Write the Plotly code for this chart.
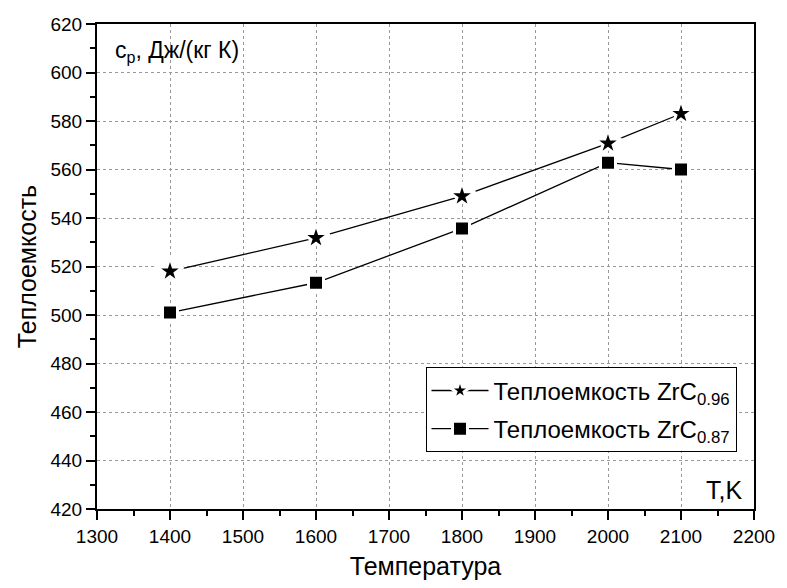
import plotly.graph_objects as go

# Temperature points, K
temperature = [1400, 1600, 1800, 2000, 2100]
# Specific heat, J/(kg K)
cp_zrc096 = [518.0, 531.8, 549.0, 570.8, 583.0]
cp_zrc087 = [501.0, 513.3, 535.7, 562.8, 560.0]

x_ticks = [1300, 1400, 1500, 1600, 1700, 1800, 1900, 2000, 2100, 2200]
x_top_minor = [1350, 1450, 1550, 1650, 1750, 1850, 1950, 2050, 2150]
y_ticks = [420, 440, 460, 480, 500, 520, 540, 560, 580, 600, 620]

FONT = "Liberation Sans, Arial, sans-serif"

fig = go.Figure()

# White marker outline leaves a small gap between the line and each marker
fig.add_trace(go.Scatter(
    x=temperature, y=cp_zrc096, mode="lines+markers",
    name="Теплоемкость ZrC<sub>0.96</sub>", legendgroup="a",
    line=dict(color="black", width=1.3),
    marker=dict(symbol="star", size=20, color="black",
                line=dict(color="white", width=3)),
))
fig.add_trace(go.Scatter(
    x=temperature, y=cp_zrc087, mode="lines+markers",
    name="Теплоемкость ZrC<sub>0.87</sub>", legendgroup="b",
    line=dict(color="black", width=1.3),
    marker=dict(symbol="square", size=15, color="black",
                line=dict(color="white", width=3)),
))

axis_common = dict(
    showline=True, linecolor="black", linewidth=2, mirror=True,
    ticks="outside", ticklen=9, tickwidth=2, tickcolor="black",
    showgrid=True, gridcolor="#999999", griddash="dot", gridwidth=1,
    zeroline=False,
    tickfont=dict(family=FONT, size=19, color="black"),
)

fig.update_xaxes(
    range=[1300, 2200], tickvals=x_ticks,
    minor=dict(dtick=50, ticks="outside", ticklen=5, tickwidth=2,
               tickcolor="black", showgrid=False),
    title=dict(text="Температура", standoff=12,
               font=dict(family=FONT, size=25, color="black")),
    **axis_common,
)
fig.update_yaxes(
    range=[420, 620], tickvals=y_ticks,
    minor=dict(dtick=10, ticks="outside", ticklen=5, tickwidth=2,
               tickcolor="black", showgrid=False),
    title=dict(text="Теплоемкость", standoff=7,
               font=dict(family=FONT, size=25, color="black")),
    **axis_common,
)

fig.add_annotation(
    text="c<sub>p</sub>, Дж/(кг К)", xref="paper", yref="paper",
    x=0.024, y=0.943, xanchor="left", yanchor="middle", showarrow=False,
    font=dict(family=FONT, size=23, color="black"),
)
fig.add_annotation(
    text="T,K", xref="paper", yref="paper",
    x=0.985, y=0.04, xanchor="right", yanchor="middle", showarrow=False,
    font=dict(family=FONT, size=25, color="black"),
)

fig.update_layout(
    width=787, height=588,
    margin=dict(l=97, r=23, t=24, b=74),
    paper_bgcolor="white", plot_bgcolor="white",
    showlegend=True,
    # small minor ticks along the top frame
    xaxis2=dict(
        overlaying="x", side="top", anchor="y", range=[1300, 2200],
        tickvals=x_top_minor, ticks="outside", ticklen=3, tickwidth=2,
        tickcolor="black", showticklabels=False, showgrid=False,
        zeroline=False, showline=False,
    ),
    legend=dict(
        x=0.5, y=0.292, xanchor="left", yanchor="top",
        bgcolor="white", bordercolor="black", borderwidth=1,
        font=dict(family=FONT, size=24, color="black"),
        tracegroupgap=4, itemsizing="trace", itemwidth=57,
    ),
    font=dict(family=FONT, color="black"),
)

fig.write_html("out.html")
